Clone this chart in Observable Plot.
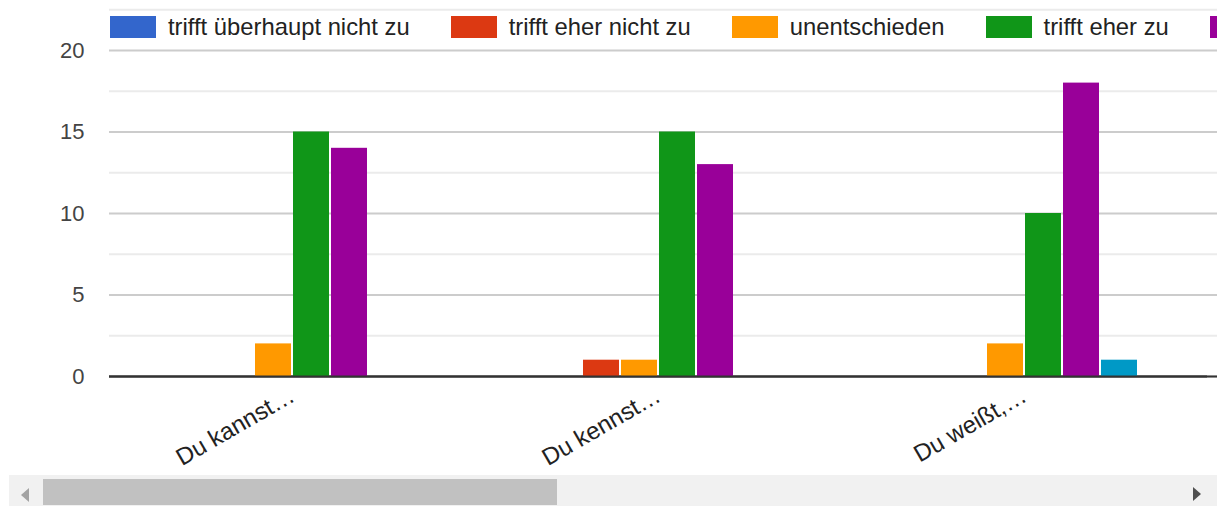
<!DOCTYPE html>
<html>
<head>
<meta charset="utf-8">
<script src="https://cdn.jsdelivr.net/npm/d3@7"></script>
<script src="https://cdn.jsdelivr.net/npm/@observablehq/plot@0.6"></script>
<style>
  html, body { margin: 0; padding: 0; background: #fff; }
  #wrap { position: relative; width: 1217px; height: 506px; overflow: hidden; font-family: "Liberation Sans", Arial, sans-serif; }
  #wrap svg { position: absolute; left: 0; top: 0; max-width: none; }
  #legend { position: absolute; left: 110px; top: 16px; display: flex; white-space: nowrap; font-size: 23.8px; color: #222; line-height: 22px; }
  .item { display: flex; align-items: center; margin-right: 41px; }
  .sw { width: 46px; height: 22px; margin-right: 12px; flex: none; }
  #track { position: absolute; left: 9px; top: 475px; width: 1208px; height: 31px; background: #f1f1f1; }
  #thumb { position: absolute; left: 43px; top: 479px; width: 514px; height: 26px; background: #c1c1c1; }
  #arrowL { position: absolute; left: 21px; top: 488px; width: 0; height: 0; border-top: 7px solid transparent; border-bottom: 7px solid transparent; border-right: 8px solid #a3a3a3; }
  #arrowR { position: absolute; left: 1193px; top: 487px; width: 0; height: 0; border-top: 7px solid transparent; border-bottom: 7px solid transparent; border-left: 8px solid #505050; }
</style>
</head>
<body>
<div id="wrap"></div>
<script>
const groups = ["Du kannst…", "Du kennst…", "Du weißt,…"];
const series = ["trifft überhaupt nicht zu", "trifft eher nicht zu", "unentschieden", "trifft eher zu", "trifft voll und ganz zu", "keine Angabe"];
const colors = ["#3366cc", "#dc3912", "#ff9900", "#109618", "#990099", "#0099c6"];
const valuesUeberhauptNicht = [0, 0, 0];
const valuesEherNicht = [0, 1, 0];
const valuesUnentschieden = [2, 1, 2];
const valuesEherZu = [15, 15, 10];
const valuesVoll = [14, 13, 18];
const valuesKeine = [0, 0, 1];
const yMajorTicks = [0, 5, 10, 15, 20];
const yMinorTicks = [2.5, 7.5, 12.5, 17.5, 22.5];
const yDomain = [0, 22.5];

const allValues = [valuesUeberhauptNicht, valuesEherNicht, valuesUnentschieden, valuesEherZu, valuesVoll, valuesKeine];
const table = [];
series.forEach((s, i) => groups.forEach((g, j) => {
  if (allValues[i][j] > 0) table.push({group: g, series: s, value: allValues[i][j]});
}));

const W = 1217, H = 476;
const common = {width: W, height: H, marginTop: 9.25, marginBottom: 100, marginLeft: 109};
const font = {fontFamily: "'Liberation Sans', Arial, sans-serif", background: "transparent", overflow: "visible"};

const back = Plot.plot({
  ...common,
  marginRight: 0,
  style: font,
  y: {domain: yDomain, axis: null},
  marks: [
    Plot.ruleY(yMinorTicks, {stroke: "#ebebeb", strokeWidth: 1.8}),
    Plot.ruleY(yMajorTicks, {stroke: "#cccccc", strokeWidth: 1.8}),
    Plot.ruleY([0], {stroke: "#333333", strokeWidth: 2}),
    Plot.axisY(yMajorTicks, {tickSize: 0, tickPadding: 25, fontSize: 22, fill: "#444444", label: null})
  ]
});

const front = Plot.plot({
  ...common,
  marginRight: 10,
  style: font,
  fx: {domain: groups, padding: 0, label: null},
  x: {domain: series, paddingInner: 2 / 38, paddingOuter: 70 / 38, axis: null},
  y: {domain: yDomain, axis: null},
  color: {domain: series, range: colors},
  marks: [
    Plot.barY(table, {fx: "group", x: "series", y: "value", fill: "series"}),
    Plot.ruleY([0], {stroke: "#333333", strokeWidth: 2}),
    Plot.axisFx({anchor: "bottom", tickSize: 0, tickPadding: 17, tickRotate: -30, fontSize: 24, fill: "#222222", label: null, dx: 0})
  ]
});

const wrap = document.getElementById("wrap");
wrap.appendChild(back);
wrap.appendChild(front);

const legend = document.createElement("div");
legend.id = "legend";
series.forEach((s, i) => {
  const it = document.createElement("div");
  it.className = "item";
  const sw = document.createElement("span");
  sw.className = "sw";
  sw.style.background = colors[i];
  const t = document.createElement("span");
  t.textContent = s;
  it.appendChild(sw);
  it.appendChild(t);
  legend.appendChild(it);
});
wrap.appendChild(legend);

for (const id of ["track", "thumb", "arrowL", "arrowR"]) {
  const d = document.createElement("div");
  d.id = id;
  wrap.appendChild(d);
}
</script>
</body>
</html>
